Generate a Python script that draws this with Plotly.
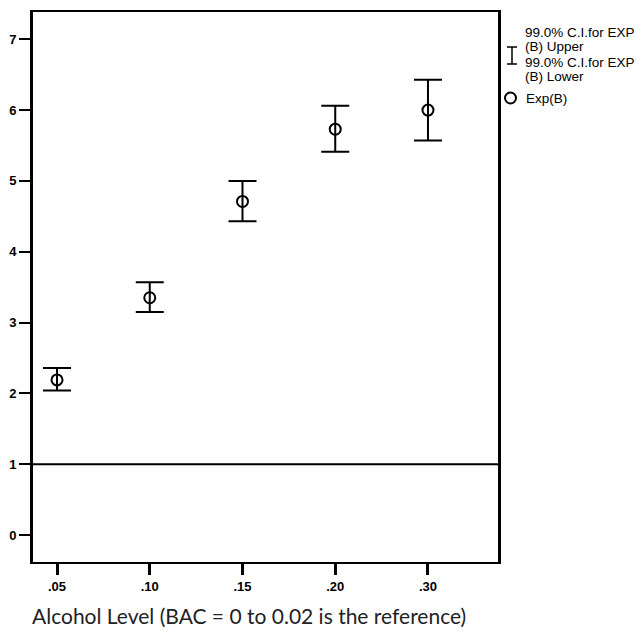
import plotly.graph_objects as go

# ---- data ----
categories = [".05", ".10", ".15", ".20", ".30"]
exp_b = [2.19, 3.35, 4.71, 5.73, 6.00]
ci_upper = [2.36, 3.57, 5.00, 6.06, 6.43]
ci_lower = [2.04, 3.15, 4.43, 5.41, 5.57]
reference_level = 1
y_ticks = [0, 1, 2, 3, 4, 5, 6, 7]

x_title = "Alcohol Level (BAC = 0 to 0.02 is the reference)"
legend_lines = ["99.0% C.I.for EXP", "(B) Upper", "99.0% C.I.for EXP", "(B) Lower"]
legend_point = "Exp(B)"

W, H = 641, 638
L, R, T, B = 33, 143, 12, 76

err_plus = [u - p for u, p in zip(ci_upper, exp_b)]
err_minus = [p - l for p, l in zip(exp_b, ci_lower)]

fig = go.Figure()
fig.add_trace(go.Scatter(
    x=categories, y=exp_b, mode="markers",
    marker=dict(symbol="circle-open", size=11, color="black",
                line=dict(width=2, color="black")),
    error_y=dict(type="data", symmetric=False, array=err_plus,
                 arrayminus=err_minus, color="black", thickness=2, width=14),
    showlegend=False,
))

fig.add_shape(type="line", xref="paper", yref="y", x0=0, x1=1,
              y0=reference_level, y1=reference_level,
              line=dict(color="black", width=2))

def px(x):
    return (x - L) / (W - L - R)

def py(y):
    return (H - B - y) / (H - T - B)

# legend glyphs: I-beam and circle
ix, iy0, iy1, cap = 512, 47, 64, 5
fig.add_shape(type="line", xref="paper", yref="paper", x0=px(ix), x1=px(ix),
              y0=py(iy0), y1=py(iy1), line=dict(color="black", width=1.5))
for yy in (iy0, iy1):
    fig.add_shape(type="line", xref="paper", yref="paper",
                  x0=px(ix - cap), x1=px(ix + cap), y0=py(yy), y1=py(yy),
                  line=dict(color="black", width=1.5))
fig.add_shape(type="circle", xref="paper", yref="paper",
              x0=px(505), x1=px(516), y0=py(92.5), y1=py(103.5),
              line=dict(color="black", width=2))

txt_font = dict(family="Liberation Sans, Arial", size=13.5, color="black")
for line_text, yc in zip(legend_lines, [32, 47, 62, 77]):
    fig.add_annotation(xref="paper", yref="paper", x=px(523), y=py(yc),
                       xanchor="left", yanchor="middle", text=line_text,
                       showarrow=False, align="left", font=txt_font)
fig.add_annotation(xref="paper", yref="paper", x=px(524), y=py(98),
                   xanchor="left", yanchor="middle", text=legend_point,
                   showarrow=False, align="left", font=txt_font)

fig.add_annotation(xref="paper", yref="paper", x=px(249), y=py(615),
                   xanchor="center", yanchor="middle", text=x_title,
                   showarrow=False,
                   font=dict(family="Lato", size=21, color="#222"))

tick_font = dict(family="Liberation Sans, Arial", size=13, color="black",
                 weight="bold")
fig.update_xaxes(type="category", range=[-0.259, 4.755], showgrid=False,
                 zeroline=False, showline=True, linecolor="black", linewidth=2,
                 mirror=True, ticks="outside", ticklen=11, tickwidth=3,
                 tickcolor="black", tickfont=tick_font, automargin=False)
fig.update_yaxes(range=[-0.381, 7.385], tickvals=y_ticks, showgrid=False,
                 zeroline=False, showline=True, linecolor="black", linewidth=3,
                 mirror=True, ticks="outside", ticklen=11, tickwidth=2,
                 tickcolor="black", tickfont=tick_font, automargin=False)

fig.update_layout(width=W, height=H, margin=dict(l=L, r=R, t=T, b=B),
                  plot_bgcolor="white", paper_bgcolor="white")

fig.write_html("out.html", config={"displayModeBar": False},
               post_script="document.body.style.margin='0';document.body.style.overflow='hidden';")
